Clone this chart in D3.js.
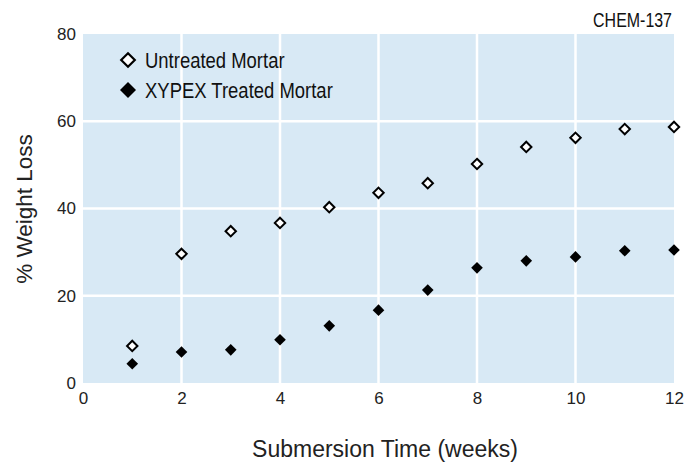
<!DOCTYPE html>
<html><head><meta charset="utf-8">
<script src="https://cdn.jsdelivr.net/npm/d3@7"></script>
<style>
body{margin:0;background:#fff;}
svg{display:block;}
</style></head><body>
<svg id="chart" width="686" height="464"></svg>
<script>
const weeks = [1,2,3,4,5,6,7,8,9,10,11,12];
const untreated = [8.5,29.6,34.8,36.7,40.3,43.6,45.8,50.2,54.1,56.2,58.2,58.7];
const treated = [4.4,7.1,7.6,9.9,13.1,16.7,21.3,26.4,28.0,28.9,30.3,30.5];
const xTicks = [0,2,4,6,8,10,12];
const yTicks = [0,20,40,60,80];
const seriesNames = ["Untreated Mortar","XYPEX Treated Mortar"];

const svg = d3.select("#chart");
const x = d3.scaleLinear().domain([0,12]).range([83,674]);
const y = d3.scaleLinear().domain([0,80]).range([383,34]);
const reg = "'Liberation Sans',Arial,sans-serif";

svg.append("rect").attr("x",x(0)).attr("y",y(80)).attr("width",x(12)-x(0)).attr("height",y(0)-y(80)).attr("fill","#d8e9f5");
svg.append("g").selectAll("line").data(xTicks.filter(d=>d>0&&d<12)).join("line")
  .attr("x1",d=>x(d)).attr("x2",d=>x(d)).attr("y1",y(0)).attr("y2",y(80)).attr("stroke","#fff").attr("stroke-width",2.5);
svg.append("g").selectAll("line").data(yTicks.filter(d=>d>0&&d<80)).join("line")
  .attr("y1",d=>y(d)).attr("y2",d=>y(d)).attr("x1",x(0)).attr("x2",x(12)).attr("stroke","#fff").attr("stroke-width",2.5);

const xAxis = svg.append("g").attr("transform",`translate(0,${y(0)})`).call(d3.axisBottom(x).tickValues(xTicks).tickSize(0).tickPadding(9));
xAxis.select(".domain").remove();
xAxis.selectAll("text").attr("font-family",reg).attr("font-size",17).attr("fill","#222");
const yAxis = svg.append("g").attr("transform",`translate(${x(0)},0)`).call(d3.axisLeft(y).tickValues(yTicks).tickSize(0).tickPadding(7));
yAxis.select(".domain").remove();
yAxis.selectAll("text").attr("font-family",reg).attr("font-size",17).attr("fill","#222");

const diamond = s => `M0,${-s}L${s},0L0,${s}L${-s},0Z`;
svg.append("g").selectAll("path").data(weeks.map((w,i)=>[w,untreated[i]])).join("path")
  .attr("d",diamond(5.2)).attr("transform",d=>`translate(${x(d[0])},${y(d[1])})`)
  .attr("fill","#fff").attr("stroke","#000").attr("stroke-width",2);
svg.append("g").selectAll("path").data(weeks.map((w,i)=>[w,treated[i]])).join("path")
  .attr("d",diamond(5.8)).attr("transform",d=>`translate(${x(d[0])},${y(d[1])})`)
  .attr("fill","#000");

// legend
const leg = svg.append("g");
leg.append("path").attr("d",diamond(6.8)).attr("transform","translate(128,60)").attr("fill","#fff").attr("stroke","#000").attr("stroke-width",2.2);
leg.append("path").attr("d",diamond(8)).attr("transform","translate(128,90)").attr("fill","#000");
leg.selectAll("text").data(seriesNames).join("text")
  .attr("transform",(d,i)=>`translate(145,${68+i*29.5}) scale(0.84,1)`).text(d=>d)
  .attr("font-family",reg).attr("font-size",22).attr("fill","#111");

svg.append("text").attr("transform","translate(672,27) scale(0.76,1)").attr("text-anchor","end").text("CHEM-137")
  .attr("font-family",reg).attr("font-size",21).attr("fill","#111");

svg.append("text").attr("x",385).attr("y",457).attr("text-anchor","middle").text("Submersion Time (weeks)")
  .attr("font-family",reg).attr("font-size",23).attr("fill","#222");
svg.append("text").attr("transform",`translate(32,${209}) rotate(-90)`).attr("text-anchor","middle").text("% Weight Loss")
  .attr("font-family",reg).attr("font-size",22.5).attr("fill","#222");
</script>
</body></html>
